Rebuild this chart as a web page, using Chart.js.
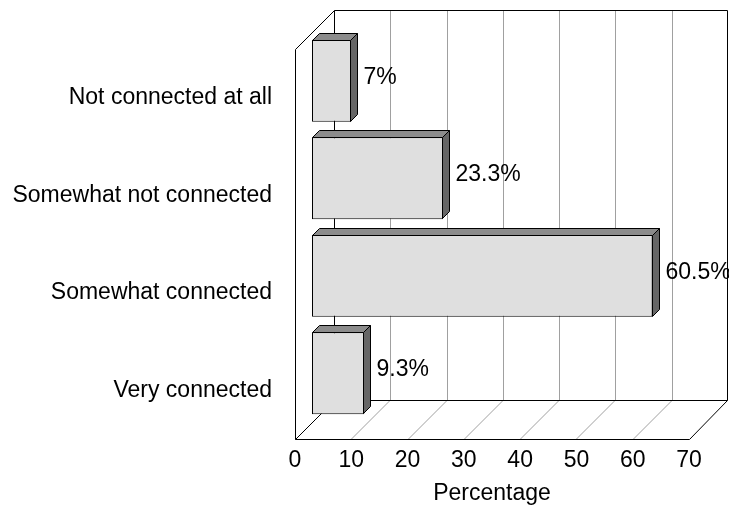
<!DOCTYPE html>
<html>
<head>
<meta charset="utf-8">
<script src="https://cdn.jsdelivr.net/npm/chart.js@4.4.1/dist/chart.umd.min.js"></script>
<style>
  html, body { margin: 0; padding: 0; background: #fff; }
  #wrap { width: 729px; height: 508px; }
</style>
</head>
<body>
<div id="wrap"><canvas id="connChart"></canvas></div>
<script>
// Survey answers, top to bottom
const categories = ['Not connected at all', 'Somewhat not connected', 'Somewhat connected', 'Very connected'];
const percentages = [7, 23.3, 60.5, 9.3];
const xTicks = [0, 10, 20, 30, 40, 50, 60, 70];

const FONT = '"Liberation Sans", Arial, sans-serif';
const FONT_SIZE = 23;
const DEPTH = 39;      // depth of the box (walls/floor)
const BAR_OFF = 17;    // how far back the bar front face sits
const BAR_DEPTH = 7;   // thickness of each bar

// back wall, floor and frame of the pseudo-3D box
const boxPlugin = {
  id: 'box3d',
  beforeDatasetsDraw(chart) {
    const { ctx, chartArea: a, scales: { x } } = chart;
    const L = a.left, R = a.right, T = a.top, B = a.bottom, D = DEPTH;
    ctx.save();
    ctx.lineWidth = 1;

    // grid lines on back wall and floor
    ctx.strokeStyle = '#a0a0a0';
    xTicks.slice(1, -1).forEach(v => {
      const px = Math.round(x.getPixelForValue(v)) + 0.5;
      ctx.beginPath();
      ctx.moveTo(px + D, T - D);
      ctx.lineTo(px + D, B - D);
      ctx.stroke();
      ctx.beginPath();
      ctx.moveTo(px, B);
      ctx.lineTo(px + D, B - D);
      ctx.stroke();
    });

    // frame
    const l = Math.round(L) + 0.5, r = Math.round(R) + 0.5;
    const t = Math.round(T) + 0.5, b = Math.round(B) + 0.5;
    ctx.strokeStyle = '#000';
    ctx.beginPath();
    // back wall outline
    ctx.moveTo(l + D, b - D); ctx.lineTo(l + D, t - D); ctx.lineTo(r + D - 1, t - D);
    ctx.lineTo(r + D - 1, b - D); ctx.lineTo(l + D, b - D);
    // left side wall
    ctx.moveTo(l, t); ctx.lineTo(l + D, t - D);
    ctx.moveTo(l, t); ctx.lineTo(l, b);
    // floor
    ctx.lineTo(r, b); ctx.lineTo(r + D - 1, b - D);
    ctx.moveTo(l, b); ctx.lineTo(l + D, b - D);
    ctx.stroke();

    // bars get pushed back into the box
    ctx.translate(BAR_OFF, -BAR_OFF);
  },
  afterDatasetsDraw(chart) {
    const { ctx } = chart;
    ctx.restore();
    const meta = chart.getDatasetMeta(0);
    const d = BAR_DEPTH;
    ctx.save();
    ctx.lineWidth = 1;
    ctx.strokeStyle = '#000';
    meta.data.forEach((bar, i) => {
      const p = bar.getProps(['x', 'y', 'base', 'height'], true);
      const left = Math.round(p.base) + BAR_OFF + 0.5;
      const right = Math.round(p.x) + BAR_OFF - 0.5;
      const top = Math.round(p.y - p.height / 2) - BAR_OFF + 0.5;
      const bottom = Math.round(p.y + p.height / 2) - BAR_OFF - 0.5;

      // top face
      ctx.fillStyle = '#8c8c8c';
      ctx.beginPath();
      ctx.moveTo(left, top); ctx.lineTo(left + d, top - d);
      ctx.lineTo(right + d, top - d); ctx.lineTo(right, top);
      ctx.closePath();
      ctx.fill(); ctx.stroke();

      // side face
      ctx.fillStyle = '#666666';
      ctx.beginPath();
      ctx.moveTo(right, top); ctx.lineTo(right + d, top - d);
      ctx.lineTo(right + d, bottom - d); ctx.lineTo(right, bottom);
      ctx.closePath();
      ctx.fill(); ctx.stroke();

      // value label
      ctx.fillStyle = '#000';
      ctx.font = FONT_SIZE + 'px ' + FONT;
      ctx.textAlign = 'left';
      ctx.textBaseline = 'middle';
      ctx.fillText(percentages[i] + '%', right + d + 6, (top + bottom) / 2 - d / 2);
    });
    ctx.restore();
  }
};

new Chart(document.getElementById('connChart'), {
  type: 'bar',
  data: {
    labels: categories,
    datasets: [{
      data: percentages,
      backgroundColor: '#dfdfdf',
      borderColor: '#000',
      borderWidth: 1,
      borderSkipped: false,
      categoryPercentage: 1,
      barPercentage: 0.84
    }]
  },
  options: {
    indexAxis: 'y',
    responsive: true,
    maintainAspectRatio: false,
    animation: false,
    layout: { padding: { top: 49, right: 40, left: 0, bottom: 0 } },
    plugins: { legend: { display: false }, tooltip: { enabled: false } },
    scales: {
      x: {
        min: 0,
        max: 70,
        grid: { display: false, drawTicks: false },
        border: { display: false },
        ticks: { stepSize: 10, color: '#000', padding: 8, font: { size: FONT_SIZE, family: FONT } },
        title: { display: true, text: 'Percentage', color: '#000', padding: { top: 0, bottom: 1 }, font: { size: FONT_SIZE, family: FONT } },
        afterFit: s => { s.height = 69; }
      },
      y: {
        grid: { display: false, drawTicks: false },
        border: { display: false },
        ticks: { color: '#000', padding: 23, font: { size: FONT_SIZE, family: FONT } },
        afterFit: s => { s.width = 295; }
      }
    }
  },
  plugins: [boxPlugin]
});
</script>
</body>
</html>
